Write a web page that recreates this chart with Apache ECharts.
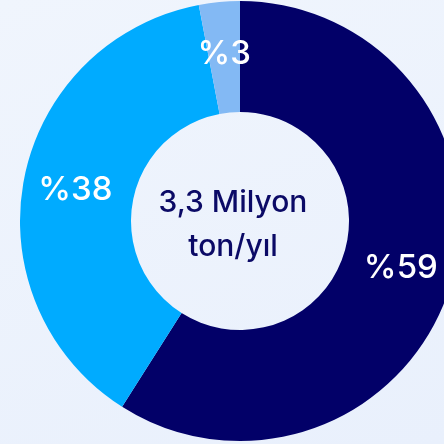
<!DOCTYPE html>
<html>
<head>
<meta charset="utf-8">
<script src="https://cdn.jsdelivr.net/npm/echarts@6/dist/echarts.min.js"></script>
<style>
  html, body { margin: 0; padding: 0; }
  body { background: linear-gradient(160deg, #f0f5fd 0%, #e9f0fc 100%); }
  #chart { width: 444px; height: 444px; }
</style>
</head>
<body>
<div id="chart"></div>
<script>
const categories = ['A', 'B', 'C']
const shares = [59, 38, 3]
const colors = ['#020068', '#00abff', '#83b9f4']
const centerText = ['3,3 Milyon', 'ton/yıl']

const chart = echarts.init(document.getElementById('chart'))

const option = {
  backgroundColor: 'transparent',
  animation: false,
  graphic: [{
    type: 'text',
    x: 233,
    y: 225,
    style: {
      text: centerText.join('\n'),
      textAlign: 'center',
      textVerticalAlign: 'middle',
      fill: '#0b0a66',
      fontFamily: 'Inter',
      fontSize: 30,
      fontWeight: 500,
      lineHeight: 44
    }
  }],
  series: [{
    type: 'pie',
    center: [240, 221],
    radius: [109, 220],
    startAngle: 90,
    clockwise: true,
    silent: true,
    label: {
      show: true,
      position: 'inside',
      formatter: (p) => '%' + p.value,
      color: '#ffffff',
      fontFamily: 'Inter',
      fontSize: 33,
      fontWeight: 500,
      padding: [6, 0, 0, 0]
    },
    labelLine: { show: false },
    data: categories.map((c, i) => ({
      name: c,
      value: shares[i],
      itemStyle: { color: colors[i] }
    }))
  }]
}

chart.setOption(option)
</script>
</body>
</html>
